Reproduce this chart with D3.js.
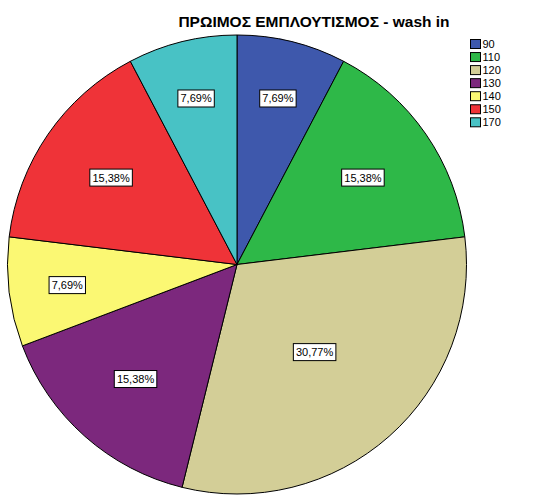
<!DOCTYPE html>
<html>
<head>
<meta charset="utf-8">
<script src="https://cdn.jsdelivr.net/npm/d3@7"></script>
<style>
html,body{margin:0;padding:0;background:#fff;}
svg{display:block;font-family:"Liberation Sans",Arial,sans-serif;}
</style>
</head>
<body>
<svg id="chart" width="533" height="501"></svg>
<script>
const title = "ΠΡΩΙΜΟΣ ΕΜΠΛΟΥΤΙΣΜΟΣ - wash in";
const categories = ["90", "110", "120", "130", "140", "150", "170"];
const counts = [1, 2, 4, 2, 1, 2, 1];
const percentLabels = ["7,69%", "15,38%", "30,77%", "15,38%", "7,69%", "15,38%", "7,69%"];
const colors = ["#3E58AC", "#2EB848", "#D3CE97", "#7C287D", "#FBF873", "#EF3338", "#48C2C5"];

const svg = d3.select("#chart");
const cx = 237, cy = 264.5, R = 229.5;

svg.append("text")
  .attr("x", 314).attr("y", 27)
  .attr("text-anchor", "middle")
  .attr("font-weight", "bold")
  .attr("font-size", 15.5)
  .attr("fill", "#000")
  .text(title);

const data = categories.map((c, i) => ({cat: c, value: counts[i], label: percentLabels[i], color: colors[i]}));
const total = d3.sum(counts);

const pie = d3.pie().sort(null).value(d => d.value);
const arcs = pie(data);
const arc = d3.arc().innerRadius(0).outerRadius(R);

const g = svg.append("g").attr("transform", `translate(${cx},${cy})`);
g.selectAll("path.slice").data(arcs).join("path")
  .attr("class", "slice")
  .attr("d", arc)
  .attr("fill", d => d.data.color)
  .attr("stroke", "#000")
  .attr("stroke-width", 1)
  .attr("stroke-linejoin", "round");

// label radius depends on slice share
const labelR = d3.scaleLinear().domain([1 / 13, 4 / 13]).range([0.745 * R, 0.51 * R]);

const lab = g.selectAll("g.lab").data(arcs).join("g").attr("class", "lab")
  .attr("transform", d => {
    const a = (d.startAngle + d.endAngle) / 2;
    const r = labelR(d.value / total);
    return `translate(${r * Math.sin(a)},${-r * Math.cos(a)})`;
  });
lab.each(function(d) {
  const s = d3.select(this);
  const t = s.append("text")
    .attr("text-anchor", "middle")
    .attr("dy", "0.36em")
    .attr("font-size", 11)
    .attr("fill", "#000")
    .text(d.data.label);
  const bb = t.node().getBBox();
  s.insert("rect", "text")
    .attr("x", -bb.width / 2 - 2.5)
    .attr("y", -8.5)
    .attr("width", bb.width + 5)
    .attr("height", 17)
    .attr("fill", "#fff")
    .attr("stroke", "#000")
    .attr("stroke-width", 1);
});

const leg = svg.append("g").attr("transform", "translate(470,39)");
const rows = leg.selectAll("g").data(data).join("g")
  .attr("transform", (d, i) => `translate(0,${i * 13.05})`);
rows.append("rect")
  .attr("x", 0.5).attr("y", 0.5)
  .attr("width", 10).attr("height", 9)
  .attr("fill", d => d.color)
  .attr("stroke", "#000")
  .attr("stroke-width", 1);
rows.append("text")
  .attr("x", 12.5).attr("y", 9)
  .attr("font-size", 11)
  .attr("fill", "#000")
  .text(d => d.cat);
</script>
</body>
</html>
